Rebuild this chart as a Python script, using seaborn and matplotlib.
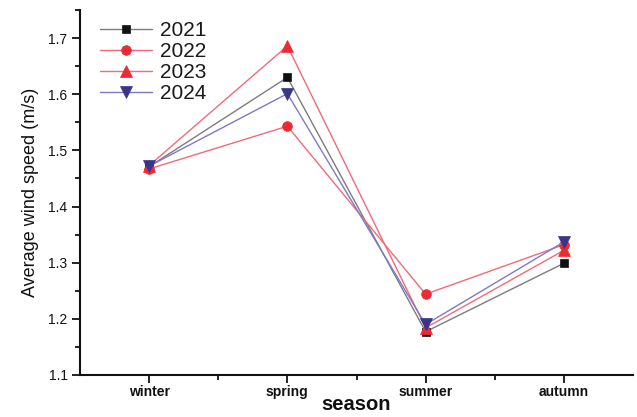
import numpy as np
import matplotlib
matplotlib.use("Agg")
import matplotlib.pyplot as plt
from matplotlib.ticker import MultipleLocator, FixedLocator
import seaborn as sns

seasons = ["winter", "spring", "summer", "autumn"]
years = ["2021", "2022", "2023", "2024"]
speed_2021 = [1.471, 1.630, 1.177, 1.299]
speed_2022 = [1.467, 1.543, 1.244, 1.332]
speed_2023 = [1.473, 1.686, 1.184, 1.322]
speed_2024 = [1.472, 1.601, 1.190, 1.337]

series = [speed_2021, speed_2022, speed_2023, speed_2024]
line_colors = ["#7c7c7c", "#f26a7a", "#f26a7a", "#8078c4"]
marker_colors = ["#111111", "#ec2a32", "#ec2a32", "#3a3589"]
markers = ["s", "o", "^", "v"]
marker_sizes = [5.5, 7, 8, 8]

sns.set_theme(style="ticks")
plt.rcParams["font.family"] = ["Liberation Sans", "DejaVu Sans"]

fig = plt.figure(figsize=(6.37, 4.17), dpi=100)
ax = fig.add_axes([80 / 637, 1 - 375 / 417, (633 - 80) / 637, (375 - 10) / 417])

x = np.arange(len(seasons))
for yr, vals, lc, mc, mk, ms in zip(years, series, line_colors, marker_colors, markers, marker_sizes):
    sns.lineplot(x=x, y=vals, ax=ax, color=lc, linewidth=1.0, marker=mk,
                 markersize=ms, markerfacecolor=mc, markeredgecolor=mc,
                 markeredgewidth=0.5, label=yr, sort=False)

ax.set_xlim(-0.5, 3.5)
ax.set_ylim(1.1, 1.75)
ax.xaxis.set_major_locator(FixedLocator(x))
ax.set_xticklabels(seasons)
ax.xaxis.set_minor_locator(FixedLocator(x[:-1] + 0.5))
ax.yaxis.set_minor_locator(MultipleLocator(0.05))
yt = np.round(np.arange(1.1, 1.71, 0.1), 1)
ax.set_yticks(yt)
ax.set_yticklabels([f"{v:.1f}" for v in yt])

for side in ["top", "right"]:
    ax.spines[side].set_visible(False)
for side in ["left", "bottom"]:
    ax.spines[side].set_linewidth(1.5)
    ax.spines[side].set_color("#111111")

ax.tick_params(axis="both", which="major", direction="out", length=6, width=1.3,
               color="#111111", labelsize=10, labelcolor="#111111", pad=3)
ax.tick_params(axis="both", which="minor", direction="out", length=3.5, width=1.3,
               color="#111111")
ax.tick_params(axis="x", which="major", labelsize=10, pad=1.5)
for lab in ax.get_xticklabels():
    lab.set_fontweight("bold")

ax.set_xlabel("season", fontsize=14.5, fontweight="bold", color="#111111")
ax.xaxis.set_label_coords(0.5, -(414 - 375) / 365)
ax.xaxis.label.set_va("bottom")
ax.set_ylabel("Average wind speed (m/s)", fontsize=13, color="#111111", labelpad=7)

leg = ax.legend(loc="upper left", frameon=False,
                fontsize=15, handlelength=2.5, handletextpad=0.4,
                labelspacing=0.1, borderaxespad=0.0, borderpad=0.0)
leg.set_bbox_to_anchor(((100 - 80) / 553, 1 - (21 - 10) / 365), transform=ax.transAxes)
for t in leg.get_texts():
    t.set_color("#1a1a1a")

fig.savefig("out.png", dpi=100, facecolor="white")
